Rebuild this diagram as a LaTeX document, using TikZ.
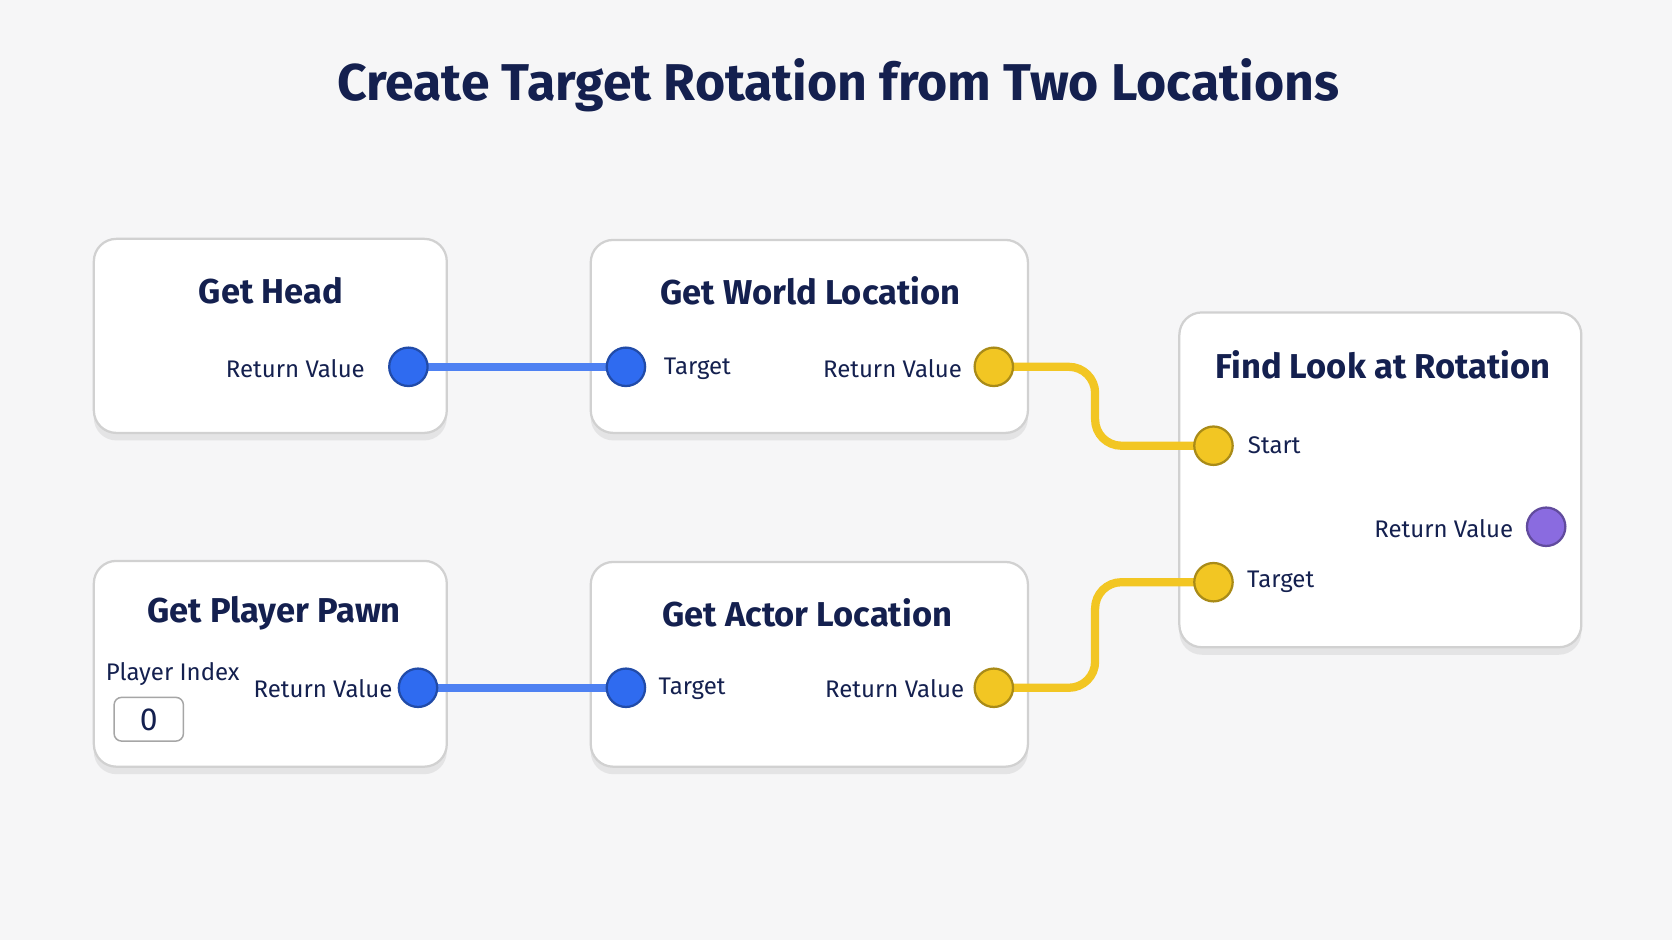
\documentclass[tikz,border=0pt]{standalone}
\usepackage{fontspec}
\setmainfont{Fira Sans}
\usetikzlibrary{positioning,shadows}
\definecolor{navy}{HTML}{14204F}
\definecolor{pinblue}{HTML}{2F6BF0}
\definecolor{pinyellow}{HTML}{F2C623}
\definecolor{pinpurple}{HTML}{8A6BE0}
\definecolor{bgcol}{HTML}{F6F6F7}
\tikzset{box/.style = {draw=black!18, line width=0.6pt, fill=white, rounded corners=6pt,
                       drop shadow={shadow xshift=0pt, shadow yshift=-2pt, opacity=0.15}}}
\tikzset{pin/.style = {circle, draw=#1!70!black, line width=0.6pt, fill=#1, inner sep=0, minimum size=0.36cm}}
\tikzset{ttl/.style = {font=\bfseries\fontsize{9.2}{11}\selectfont, text=navy}}
\tikzset{lbl/.style = {font=\fontsize{6.4}{8}\selectfont, text=navy}}
\tikzset{wire/.style = {line width=2.2pt, draw=#1}}
\begin{document}
\begin{tikzpicture}[x=0.01cm, y=-0.01cm]
    \fill[bgcol] (0,0) rectangle (1568,882);
    \useasboundingbox (0,0) rectangle (1568,882);
    \node[font=\bfseries\fontsize{13.8}{16}\selectfont, text=navy] (title) at (786,80) {Create Target Rotation from Two Locations};

    % boxes
    \draw[box] (88,224) rectangle (419,406);
    \draw[box] (554,225) rectangle (964,406);
    \draw[box] (1106,293) rectangle (1483,607);
    \draw[box] (88,526) rectangle (419,719);
    \draw[box] (554,527) rectangle (964,719);

    % titles
    \node[ttl] (headT) at (254,273) {Get Head};
    \node[ttl] (worldT) at (760,273) {Get World Location};
    \node[ttl] (lookT) at (1297,342) {Find Look at Rotation};
    \node[ttl] (pawnT) at (257,575) {Get Player Pawn};
    \node[ttl] (actorT) at (757,575) {Get Actor Location};

    % wires first
    \coordinate (headP) at (383,344);
    \coordinate (worldIn) at (587,344);
    \coordinate (worldOut) at (932,344);
    \coordinate (startP) at (1138,418);
    \coordinate (targetP) at (1138,546);
    \coordinate (pawnP) at (392,645);
    \coordinate (actorIn) at (587,645);
    \coordinate (actorOut) at (932,645);
    \draw[wire=pinblue!85] (headP) -- (worldIn);
    \draw[wire=pinblue!85] (pawnP) -- (actorIn);
    \draw[wire=pinyellow, rounded corners=7pt] (worldOut) -- (1027,344) -- (1027,418) -- (startP);
    \draw[wire=pinyellow, rounded corners=7pt] (actorOut) -- (1027,645) -- (1027,546) -- (targetP);

    % pins
    \node[pin=pinblue] (headPin) at (headP) {};
    \node[pin=pinblue] (worldInPin) at (worldIn) {};
    \node[pin=pinyellow] (worldOutPin) at (worldOut) {};
    \node[pin=pinyellow] (startPin) at (startP) {};
    \node[pin=pinyellow] (targetPin) at (targetP) {};
    \node[pin=pinpurple] (rotPin) at (1450,494) {};
    \node[pin=pinblue] (pawnPin) at (pawnP) {};
    \node[pin=pinblue] (actorInPin) at (actorIn) {};
    \node[pin=pinyellow] (actorOutPin) at (actorOut) {};

    % labels
    \node[lbl] (headRV) at (277,346) {Return Value};
    \node[lbl] (worldTg) at (654,346) {Target};
    \node[lbl] (worldRV) at (837,346) {Return Value};
    \node[lbl] (lookStart) at (1195,418) {Start};
    \node[lbl] (lookRV) at (1354,496) {Return Value};
    \node[lbl] (lookTg) at (1201,546) {Target};
    \node[lbl] (pawnIdx) at (162,632) {Player Index};
    \node[lbl] (pawnRV) at (303,646) {Return Value};
    \node[lbl] (actorTg) at (649,646) {Target};
    \node[lbl] (actorRV) at (839,646) {Return Value};
    \draw[draw=black!35, fill=white, rounded corners=2pt] (107,654) rectangle (172,695);
    \node[lbl, font=\fontsize{8.5}{10}\selectfont] (idxVal) at (139.5,675) {0};
\end{tikzpicture}
\end{document}
